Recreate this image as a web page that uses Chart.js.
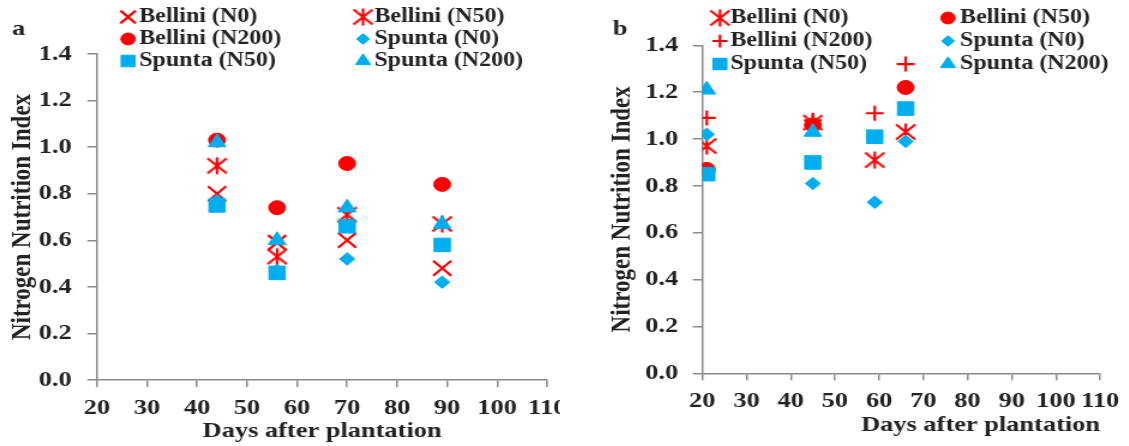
<!DOCTYPE html>
<html>
<head>
<meta charset="utf-8">
<script src="https://cdn.jsdelivr.net/npm/chart.js@4.4.1/dist/chart.umd.min.js"></script>
<style>
  body { margin: 0; background: #fff; }
  .panel { position: absolute; top: 0; height: 446px; overflow: hidden; }
  .panel canvas { position: absolute; left: 0; top: 0; transform: scaleX(1.2); transform-origin: 0 0; }
</style>
</head>
<body>
<div class="panel" style="left:0;width:560px"><canvas id="chartA" width="484" height="446"></canvas></div>
<div class="panel" style="left:560px;width:569px"><canvas id="chartB" width="474" height="446"></canvas></div>
<script>
// panel a
let daysA = [44, 56, 70, 89]
let belliniN0A = [0.80, 0.59, 0.60, 0.48]
let belliniN50A = [0.92, 0.53, 0.71, 0.67]
let belliniN200A = [1.03, 0.74, 0.93, 0.84]
let spuntaN0A = [0.77, 0.47, 0.52, 0.42]
let spuntaN50A = [0.75, 0.46, 0.66, 0.58]
let spuntaN200A = [1.02, 0.60, 0.74, 0.67]

// panel b
let daysB = [21, 45, 59, 66]
let belliniN0B = [0.97, 1.07, 0.91, 1.03]
let belliniN50B = [0.87, 1.06, null, 1.22]
let belliniN200B = [1.09, 1.08, 1.11, 1.32]
let spuntaN0B = [1.02, 0.81, 0.73, 0.99]
let spuntaN50B = [0.85, 0.90, 1.01, 1.13]
let spuntaN200B = [1.21, 1.03, null, null]

let seriesNames = ["Bellini (N0)", "Bellini (N50)", "Bellini (N200)", "Spunta (N0)", "Spunta (N50)", "Spunta (N200)"]

const red = "#ff0000"
const blue = "#00aeef"
const textColor = "#222"
const axisColor = "#8a8a8a"
const serif = "'Times New Roman', 'Liberation Serif', serif"

// excel style asterisk: an x with a vertical bar
function makeStar() {
    const c = document.createElement("canvas")
    c.width = 20
    c.height = 20
    const g = c.getContext("2d")
    g.strokeStyle = red
    g.lineWidth = 2.2
    g.beginPath()
    g.moveTo(2, 2.5); g.lineTo(18, 17.5)
    g.moveTo(2, 17.5); g.lineTo(18, 2.5)
    g.moveTo(10, 1.5); g.lineTo(10, 18.5)
    g.stroke()
    return c
}
const star = makeStar()

const markers = {
    x: { pointStyle: "crossRot", pointRadius: 10.6, backgroundColor: red, borderColor: red, borderWidth: 2.2 },
    star: { pointStyle: star, pointRadius: 9, backgroundColor: red, borderColor: red, borderWidth: 0 },
    plus: { pointStyle: "cross", pointRadius: 7.5, backgroundColor: red, borderColor: red, borderWidth: 2.2 },
    circle: { pointStyle: "circle", pointRadius: 7, backgroundColor: red, borderColor: red, borderWidth: 1 },
    diamond: { pointStyle: "rectRot", pointRadius: 6.3, backgroundColor: blue, borderColor: blue, borderWidth: 1 },
    square: { pointStyle: "rect", pointRadius: 9.6, backgroundColor: blue, borderColor: blue, borderWidth: 1 },
    triangle: { pointStyle: "triangle", pointRadius: 8.5, backgroundColor: blue, borderColor: blue, borderWidth: 1 }
}

function pts(days, vals) {
    let out = []
    for (let i = 0; i < days.length; i++) {
        if (vals[i] !== null) out.push({ x: days[i], y: vals[i] })
    }
    return out
}

function makeSet(i, days, vals, m) {
    return Object.assign({
        label: seriesNames[i],
        data: pts(days, vals),
        order: 5 - i,
        pointHoverRadius: m.pointRadius
    }, m)
}

const cornerLegend = {
    id: "cornerLegend",
    afterDraw(chart, args, opts) {
        const ctx = chart.ctx
        ctx.save()
        ctx.font = "bold 20px " + serif
        ctx.textBaseline = "middle"
        chart.data.datasets.forEach((ds, i) => {
            const col = i % 2
            const row = Math.floor(i / 2)
            const y = opts.rowY[row]
            if (Chart.helpers && Chart.helpers.drawPoint) {
                ctx.fillStyle = ds.backgroundColor
                ctx.strokeStyle = ds.borderColor
                ctx.lineWidth = ds.borderWidth
                Chart.helpers.drawPoint(ctx, {
                    pointStyle: ds.pointStyle,
                    radius: ds.pointRadius * 0.85,
                    borderWidth: ds.borderWidth,
                    rotation: 0
                }, opts.markerX[col], y)
            }
            ctx.fillStyle = textColor
            ctx.fillText(ds.label, opts.textX[col], y)
        })
        ctx.font = "bold 22px " + serif
        ctx.textBaseline = "alphabetic"
        ctx.fillText(opts.tag, opts.tagX, 35)
        ctx.restore()
    }
}

function makeChart(id, datasets, cfg) {
    return new Chart(id, {
        type: "scatter",
        data: { datasets: datasets },
        plugins: [cornerLegend],
        options: {
            responsive: false,
            animation: false,
            events: [],
            layout: { padding: cfg.padding },
            plugins: {
                legend: { display: false },
                tooltip: { enabled: false },
                cornerLegend: cfg.legend
            },
            scales: {
                x: {
                    type: "linear", min: 20, max: 110,
                    ticks: { stepSize: 10, autoSkip: false, maxRotation: 0, padding: 8, color: textColor,
                        font: { family: serif, size: 22, weight: "bold" } },
                    grid: { drawOnChartArea: false, tickLength: 7, color: axisColor, lineWidth: 1.5 },
                    border: { color: axisColor, width: 1.5 },
                    title: { display: true, text: "Days after plantation", align: cfg.xTitleAlign, color: textColor,
                        padding: { top: 0, bottom: 1 }, font: { family: serif, size: 22, weight: "bold" } },
                    afterFit: (s) => { s.height = 66 }
                },
                y: {
                    min: 0, max: 1.4,
                    ticks: { stepSize: 0.2, padding: cfg.yTickPad, color: textColor,
                        font: { family: serif, size: 22, weight: "bold" },
                        callback: (v) => v.toFixed(1) },
                    grid: { drawOnChartArea: false, tickLength: 8, color: axisColor, lineWidth: 1.5 },
                    border: { color: axisColor, width: 1.5 },
                    title: { display: true, text: "Nitrogen Nutrition Index", color: textColor,
                        padding: { top: cfg.yTitlePad, bottom: 0 }, font: { family: serif, size: 23, weight: "bold" } },
                    afterFit: (s) => { s.width = cfg.yWidth }
                }
            }
        }
    })
}

makeChart("chartA", [
    makeSet(0, daysA, belliniN0A, markers.x),
    makeSet(1, daysA, belliniN50A, markers.star),
    makeSet(2, daysA, belliniN200A, markers.circle),
    makeSet(3, daysA, spuntaN0A, markers.diamond),
    makeSet(4, daysA, spuntaN50A, markers.square),
    makeSet(5, daysA, spuntaN200A, markers.triangle)
], {
    padding: { left: 0, top: 54, right: 28, bottom: 0 },
    yWidth: 80.8, yTickPad: 13, yTitlePad: 5.4, xTitleAlign: "center",
    legend: { markerX: [106.7, 302.5], textX: [116, 312], rowY: [17, 39, 61], tag: "a", tagX: 10 }
})

makeChart("chartB", [
    makeSet(0, daysB, belliniN0B, markers.star),
    makeSet(1, daysB, belliniN50B, markers.circle),
    makeSet(2, daysB, belliniN200B, markers.plus),
    makeSet(3, daysB, spuntaN0B, markers.diamond),
    makeSet(4, daysB, spuntaN50B, markers.square),
    makeSet(5, daysB, spuntaN200B, markers.triangle)
], {
    padding: { left: 0, top: 45.3, right: 21, bottom: 6.7 },
    yWidth: 118.6, yTickPad: 12, yTitlePad: 37.9, xTitleAlign: "end",
    legend: { markerX: [133.3, 323.3], textX: [142, 333.3], rowY: [18, 41, 64], tag: "b", tagX: 44 }
})
</script>
</body>
</html>
